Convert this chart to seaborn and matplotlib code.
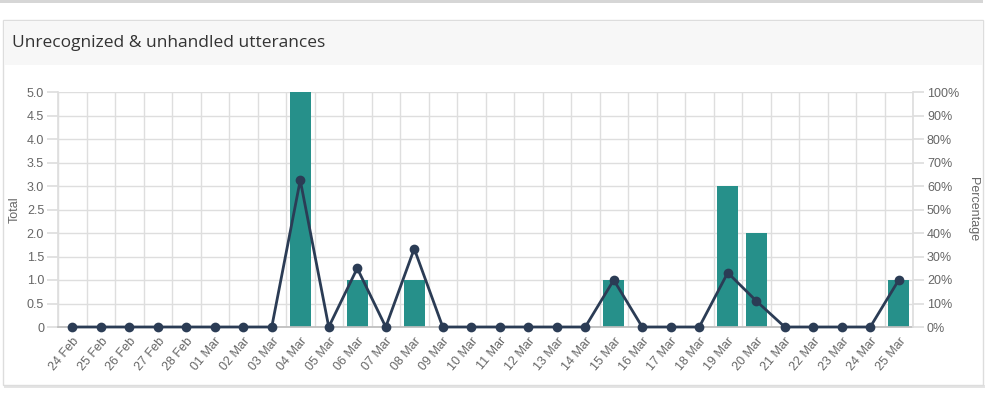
import matplotlib
matplotlib.use("Agg")
import matplotlib.pyplot as plt
from matplotlib.patches import Rectangle
from matplotlib.ticker import FixedLocator, FuncFormatter
import seaborn as sns
import pandas as pd

# ---- data ----
dates = ["24 Feb", "25 Feb", "26 Feb", "27 Feb", "28 Feb", "01 Mar", "02 Mar", "03 Mar",
         "04 Mar", "05 Mar", "06 Mar", "07 Mar", "08 Mar", "09 Mar", "10 Mar", "11 Mar",
         "12 Mar", "13 Mar", "14 Mar", "15 Mar", "16 Mar", "17 Mar", "18 Mar", "19 Mar",
         "20 Mar", "21 Mar", "22 Mar", "23 Mar", "24 Mar", "25 Mar"]
totals = [0, 0, 0, 0, 0, 0, 0, 0,
          5, 0, 1, 0, 1, 0, 0, 0,
          0, 0, 0, 1, 0, 0, 0, 3,
          2, 0, 0, 0, 0, 1]
percentages = [0, 0, 0, 0, 0, 0, 0, 0,
               62.5, 0, 25, 0, 33.3, 0, 0, 0,
               0, 0, 0, 20, 0, 0, 0, 23.1,
               11.1, 0, 0, 0, 0, 20]
left_ticks = [0, 0.5, 1.0, 1.5, 2.0, 2.5, 3.0, 3.5, 4.0, 4.5, 5.0]
right_ticks = [0, 10, 20, 30, 40, 50, 60, 70, 80, 90, 100]
title = "Unrecognized & unhandled utterances"

df = pd.DataFrame({"date": dates, "total": totals, "pct": percentages})

BAR = "#26908a"
LINE = "#2b3c55"
GRID = "#dedede"
TXT = "#666666"
FS = 9

sns.set_theme(style="white")
plt.rcParams["font.family"] = ["Liberation Sans", "DejaVu Sans"]

W, H = 992, 393
fig = plt.figure(figsize=(W / 100, H / 100), dpi=100)
fig.patch.set_facecolor("white")

def fx(x):
    return x / W

def fy(y):
    return 1 - y / H

# top shadow (previous card)
fig.patches.append(Rectangle((0, fy(3)), fx(983), 3 / H, transform=fig.transFigure,
                             facecolor="#d6d6d6", edgecolor="none", zorder=-5))
# card
fig.patches.append(Rectangle((fx(4), fy(388)), fx(981), 3 / H, transform=fig.transFigure,
                             facecolor="#e4e4e4", edgecolor="none", zorder=-5))
fig.patches.append(Rectangle((fx(3), fy(385)), fx(980), 365 / H, transform=fig.transFigure,
                             facecolor="white", edgecolor="#dddddd", linewidth=1, zorder=-4))
fig.patches.append(Rectangle((fx(3.5), fy(65)), fx(979), 44.5 / H, transform=fig.transFigure,
                             facecolor="#f7f7f7", edgecolor="none", zorder=-3))
fig.text(fx(12), fy(43), title, fontsize=12.5, color="#333333", va="center", ha="left",
         family=["Open Sans", "DejaVu Sans"])

x0, x1, yt, yb = 58, 913, 92, 327
ax = fig.add_axes([fx(x0), fy(yb), fx(x1 - x0), (yb - yt) / H])
ax.set_facecolor("none")

sns.barplot(data=df, x="date", y="total", ax=ax, color=BAR, width=0.73,
            saturation=1, edgecolor="none", zorder=2)
n = len(dates)
ax.set_xlim(-0.5, n - 0.5)
ax.set_ylim(0, 5)
ax.set_yticks(left_ticks)
ax.yaxis.set_major_formatter(FuncFormatter(lambda v, p: "0" if v == 0 else f"{v:.1f}"))
ax.tick_params(axis="y", length=8, color=GRID, labelsize=FS, labelcolor=TXT, pad=2)
ax.grid(axis="y", color=GRID, linewidth=1, zorder=0)
# x: labels at centers, gridlines at boundaries
ax.set_xticks(range(n))
ax.set_xticklabels(dates, rotation=50, ha="right", rotation_mode="anchor")
ax.tick_params(axis="x", which="major", length=0, labelsize=FS, labelcolor=TXT, pad=6)
ax.xaxis.set_minor_locator(FixedLocator([i - 0.5 for i in range(n + 1)]))
ax.tick_params(axis="x", which="minor", length=8, color=GRID, width=1)
ax.grid(axis="x", which="minor", color=GRID, linewidth=1, zorder=0)
ax.set_axisbelow(True)
for s in ["top", "right"]:
    ax.spines[s].set_visible(False)
ax.spines["left"].set_color(GRID)
ax.spines["bottom"].set_color("#bdbdbd")
ax.set_xlabel("")
ax.set_ylabel("Total", fontsize=FS, color=TXT, labelpad=4)

ax2 = ax.twinx()
ax2.set_zorder(ax.get_zorder() + 1)
ax2.patch.set_visible(False)
sns.pointplot(data=df, x="date", y="pct", ax=ax2, color=LINE, markers="o",
              markersize=5.5, linewidth=2, errorbar=None)
ax2.set_xlim(-0.5, n - 0.5)
ax2.set_ylim(0, 100)
ax2.set_yticks(right_ticks)
ax2.yaxis.set_major_formatter(FuncFormatter(lambda v, p: f"{int(v)}%"))
ax2.tick_params(axis="y", length=8, color=GRID, labelsize=FS, labelcolor=TXT, pad=2)
for line in ax2.lines:
    line.set_clip_on(False)
for c in ax2.collections:
    c.set_clip_on(False)
for s in ["top", "left", "bottom"]:
    ax2.spines[s].set_visible(False)
ax2.spines["right"].set_color(GRID)
ax2.set_ylabel("Percentage", fontsize=FS, color=TXT, rotation=270, labelpad=14)
ax2.set_xlabel("")

fig.savefig("out.png", dpi=100)
